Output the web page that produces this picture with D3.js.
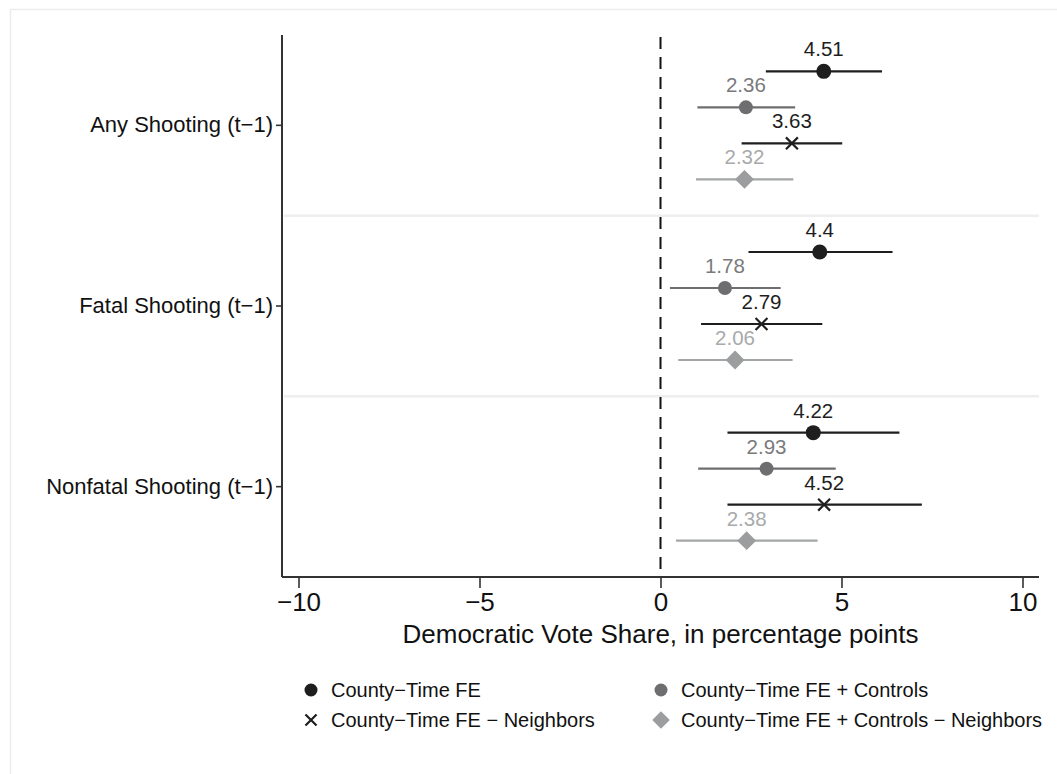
<!DOCTYPE html>
<html><head><meta charset="utf-8">
<script src="https://cdn.jsdelivr.net/npm/d3@7"></script>
<style>body{margin:0;background:#fff}svg{display:block;font-family:"Liberation Sans",Arial,Helvetica,sans-serif}</style>
</head><body><svg id="c" width="1057" height="774"></svg>
<script>
const categories = ["Any Shooting (t\u22121)", "Fatal Shooting (t\u22121)", "Nonfatal Shooting (t\u22121)"];
const seriesNames = ["County\u2212Time FE", "County\u2212Time FE + Controls", "County\u2212Time FE \u2212 Neighbors", "County\u2212Time FE + Controls \u2212 Neighbors"];
const estFE        = [4.51, 4.40, 4.22];
const estControls  = [2.36, 1.78, 2.93];
const estNeighbors = [3.63, 2.79, 4.52];
const estCtrlNeigh = [2.32, 2.06, 2.38];
const lowFE        = [2.91, 2.43, 1.85];
const highFE       = [6.12, 6.41, 6.60];
const lowControls  = [1.02, 0.26, 1.04];
const highControls = [3.72, 3.32, 4.84];
const lowNeighbors = [2.24, 1.12, 1.85];
const highNeighbors= [5.02, 4.47, 7.22];
const lowCtrlNeigh = [0.98, 0.49, 0.43];
const highCtrlNeigh= [3.67, 3.65, 4.34];
const xTicks = [-10, -5, 0, 5, 10];
const xTitle = "Democratic Vote Share, in percentage points";

const est = [estFE, estControls, estNeighbors, estCtrlNeigh];
const lo = [lowFE, lowControls, lowNeighbors, lowCtrlNeigh];
const hi = [highFE, highControls, highNeighbors, highCtrlNeigh];
const lineColors = ["#1e1e1e", "#6e6e70", "#1e1e1e", "#a3a5a6"];
const markColors = ["#1e1e1e", "#6e6e70", "#1e1e1e", "#9b9d9e"];
const labelColors = ["#1e1e1e", "#7a7a7c", "#1e1e1e", "#a8aaab"];
const shapes = ["circle", "circle", "x", "diamond"];

const svg = d3.select("#c");
svg.append("rect").attr("x", 10.5).attr("y", 9.5).attr("width", 1200).attr("height", 900)
  .attr("fill", "#fff").attr("stroke", "#ececec").attr("stroke-width", 1.5);

const L = 282, R = 1039, T = 35, B = 577;
const x = d3.scaleLinear().domain([-10, 10]).range([298.5, 1022.5]);
const y = d3.scaleBand().domain(categories).range([T, B]);
const off = d3.scalePoint().domain(seriesNames).range([-54, 54]);

svg.append("g").selectAll("line").data(categories.slice(1)).join("line")
  .attr("x1", L + 2).attr("x2", R).attr("y1", d => y(d)).attr("y2", d => y(d))
  .attr("stroke", "#eeeeee").attr("stroke-width", 2.5);

svg.append("line").attr("x1", x(0)).attr("x2", x(0)).attr("y1", T + 2).attr("y2", B)
  .attr("stroke", "#111").attr("stroke-width", 2).attr("stroke-dasharray", "12,8");

const xa = svg.append("g").attr("transform", `translate(0,${B})`)
  .call(d3.axisBottom(x).tickValues(xTicks).tickSize(11).tickFormat(d => d < 0 ? "\u2212" + Math.abs(d) : d));
xa.select(".domain").remove();
xa.selectAll(".tick line").attr("stroke", "#333").attr("stroke-width", 1.6);
xa.selectAll(".tick text").attr("font-size", 26).attr("fill", "#111").attr("dy", "0.9em").attr("y", 11)
  .attr("font-family", "'Liberation Sans', Arial, sans-serif");
svg.append("line").attr("x1", L).attr("x2", R).attr("y1", B).attr("y2", B).attr("stroke", "#333").attr("stroke-width", 2);
svg.append("line").attr("x1", L).attr("x2", L).attr("y1", T).attr("y2", B).attr("stroke", "#333").attr("stroke-width", 2);

const ya = svg.append("g").attr("transform", `translate(${L},0)`)
  .call(d3.axisLeft(y).tickSize(6).tickPadding(3));
ya.select(".domain").remove();
ya.selectAll(".tick line").attr("stroke", "#333").attr("stroke-width", 1.6);
ya.selectAll(".tick text").attr("font-size", 22).attr("fill", "#111")
  .attr("font-family", "'Liberation Sans', Arial, sans-serif");

svg.append("text").attr("x", x(0)).attr("y", 643).attr("text-anchor", "middle")
  .attr("font-size", 26).attr("fill", "#111").text(xTitle);

function drawMarker(g, shape, cx, cy, color, r) {
  if (shape === "circle") {
    g.append("circle").attr("cx", cx).attr("cy", cy).attr("r", r).attr("fill", color);
  } else if (shape === "diamond") {
    const s = r * 1.35;
    g.append("path").attr("d", `M${cx},${cy - s}L${cx + s},${cy}L${cx},${cy + s}L${cx - s},${cy}Z`).attr("fill", color);
  } else {
    const s = r * 0.85;
    g.append("path").attr("d", `M${cx - s},${cy - s}L${cx + s},${cy + s}M${cx - s},${cy + s}L${cx + s},${cy - s}`)
      .attr("stroke", color).attr("stroke-width", 2.2).attr("fill", "none");
  }
}

const pg = svg.append("g");
seriesNames.forEach((s, si) => {
  categories.forEach((c, ci) => {
    const cy = y(c) + y.bandwidth() / 2 + off(s);
    pg.append("line").attr("x1", x(lo[si][ci])).attr("x2", x(hi[si][ci])).attr("y1", cy).attr("y2", cy)
      .attr("stroke", lineColors[si]).attr("stroke-width", 2.2);
    drawMarker(pg, shapes[si], x(est[si][ci]), cy, markColors[si], si === 0 ? 7.5 : 7);
    pg.append("text").attr("x", x(est[si][ci])).attr("y", cy - 15).attr("text-anchor", "middle")
      .attr("font-size", 20.5).attr("fill", labelColors[si]).text(est[si][ci]);
  });
});

const legPos = [[311, 690], [661, 690], [311, 720], [661, 720]];
const lg = svg.append("g");
seriesNames.forEach((s, si) => {
  const [lx, ly] = legPos[si];
  drawMarker(lg, shapes[si], lx, ly, markColors[si], 6.5);
  lg.append("text").attr("x", lx + 20).attr("y", ly).attr("dy", "0.35em")
    .attr("font-size", 20).attr("fill", "#111").text(s);
});
</script></body></html>
